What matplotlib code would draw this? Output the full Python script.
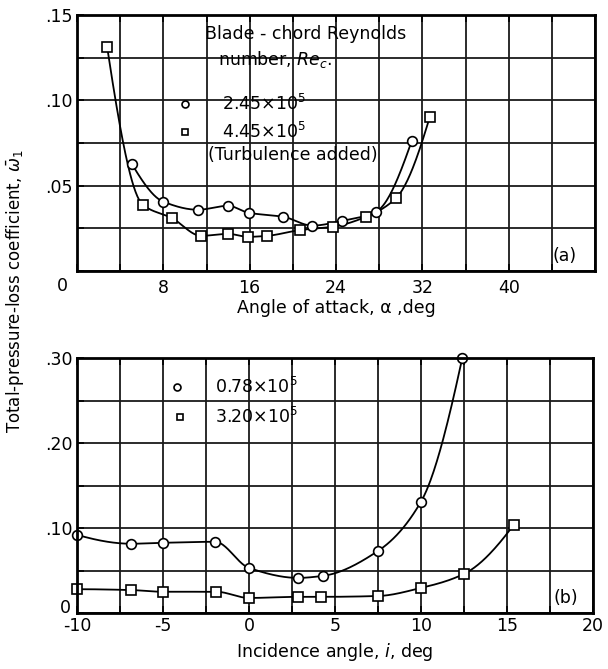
"""
Total-pressure-loss coefficient vs angle of attack (a) and incidence angle (b).
Two-panel grid chart in the old NACA report style.
"""
import matplotlib
matplotlib.use("Agg")
import matplotlib.pyplot as plt
import numpy as np
from matplotlib.patches import Rectangle
from matplotlib.ticker import FixedLocator, FuncFormatter

# panel (a): angle of attack, deg
A_RE245_X = [5.1, 8.0, 11.2, 14.0, 15.9, 19.1, 21.8, 24.6, 27.7, 31.0]
A_RE245_Y = [0.0625, 0.0406, 0.0359, 0.0382, 0.0341, 0.0318, 0.0266, 0.0294, 0.0347, 0.0759]
A_RE445_X = [2.8, 6.1, 8.8, 11.5, 14.0, 15.8, 17.6, 20.7, 23.7, 26.8, 29.6, 32.7]
A_RE445_Y = [0.131, 0.0388, 0.031, 0.0206, 0.0218, 0.020, 0.0206, 0.024, 0.0259, 0.0318, 0.043, 0.0905]

# panel (b): incidence angle, deg
B_RE078_X = [-10.0, -6.85, -5.0, -1.97, 0.0, 2.85, 4.3, 7.5, 10.0, 12.4]
B_RE078_Y = [0.092, 0.0815, 0.0826, 0.0838, 0.053, 0.0413, 0.0437, 0.073, 0.131, 0.300]
B_RE320_X = [-10.0, -6.85, -5.0, -1.9, 0.0, 2.85, 4.2, 7.5, 10.0, 12.5, 15.4]
B_RE320_Y = [0.028, 0.027, 0.025, 0.025, 0.0177, 0.019, 0.019, 0.020, 0.0295, 0.046, 0.104]

A_XTICKS = [0, 8, 16, 24, 32, 40]
A_YTICKS = [0.05, 0.10, 0.15]
B_XTICKS = [-10, -5, 0, 5, 10, 15, 20]
B_YTICKS = [0.10, 0.20, 0.30]

FS = 12.5
MK = dict(mfc="white", mec="black", mew=1.2, ls="none", zorder=5, clip_on=False)


def _end_slope(h0, h1, d0, d1):
    m = ((2 * h0 + h1) * d0 - h0 * d1) / (h0 + h1)
    if np.sign(m) != np.sign(d0):
        m = 0.0
    elif np.sign(d0) != np.sign(d1) and abs(m) > abs(3 * d0):
        m = 3 * d0
    return m


def smooth(x, y, n=40):
    # monotone cubic (pchip) through the measured points, only to draw the faired curve
    x = np.asarray(x, float)
    y = np.asarray(y, float)
    h = np.diff(x)
    d = np.diff(y) / h
    m = np.zeros_like(y)
    for k in range(1, len(x) - 1):
        if d[k - 1] * d[k] > 0:
            w1 = 2 * h[k] + h[k - 1]
            w2 = h[k] + 2 * h[k - 1]
            m[k] = (w1 + w2) / (w1 / d[k - 1] + w2 / d[k])
    m[0] = _end_slope(h[0], h[1], d[0], d[1])
    m[-1] = _end_slope(h[-1], h[-2], d[-1], d[-2])
    xs, ys = [], []
    for k in range(len(x) - 1):
        t = np.linspace(0, 1, n)[(0 if k == 0 else 1):]
        h00 = 2 * t ** 3 - 3 * t ** 2 + 1
        h10 = t ** 3 - 2 * t ** 2 + t
        h01 = -2 * t ** 3 + 3 * t ** 2
        h11 = t ** 3 - t ** 2
        xs.append(x[k] + t * h[k])
        ys.append(h00 * y[k] + h10 * h[k] * m[k] + h01 * y[k + 1] + h11 * h[k] * m[k + 1])
    return np.concatenate(xs), np.concatenate(ys)


def style_axes(ax, xstep, ystep, xlim, ylim, xlab, ylab_ticks, ylab_fmt):
    ax.set_xlim(*xlim)
    ax.set_ylim(*ylim)
    ax.xaxis.set_major_locator(FixedLocator(np.arange(xlim[0], xlim[1] + 1e-9, xstep)))
    ax.yaxis.set_major_locator(FixedLocator(np.arange(ylim[0], ylim[1] + 1e-9, ystep)))
    ax.xaxis.set_major_formatter(FuncFormatter(
        lambda v, _: f"{v:g}" if any(abs(v - t) < 1e-6 for t in xlab) else ""))
    ax.yaxis.set_major_formatter(FuncFormatter(
        lambda v, _: ylab_fmt(v) if any(abs(v - t) < 1e-6 for t in ylab_ticks) else ""))
    ax.grid(True, color="#1a1a1a", lw=1.3, zorder=1)
    ax.tick_params(direction="in", length=5, width=1.2, top=True, right=False,
                   labelsize=FS, colors="black")
    for sp in ax.spines.values():
        sp.set_linewidth(2.0)
        sp.set_zorder(6)
    ax.set_axisbelow(False)


fig = plt.figure(figsize=(6.08, 6.69), dpi=100)
plt.rcParams["mathtext.fontset"] = "dejavusans"

# ---- panel (a)
ax1 = fig.add_axes([77 / 608, 1 - 271 / 669, 518 / 608, 256 / 669])
style_axes(ax1, 4, 0.025, (0, 48), (0, 0.15), A_XTICKS[1:], A_YTICKS,
           lambda v: f"{v:.2f}"[1:])
ax1.tick_params(axis="x", pad=6)
ax1.tick_params(axis="y", pad=3)
ax1.add_patch(Rectangle((8, 0.060), 20.3, 0.09, fc="white", ec="none", zorder=2))
ax1.text(-0.029, -0.058, "0", transform=ax1.transAxes, ha="center", va="center", fontsize=FS)

for xs, ys, m in [(A_RE245_X, A_RE245_Y, "o"), (A_RE445_X, A_RE445_Y, "s")]:
    sx, sy = smooth(xs, ys)
    ax1.plot(sx, sy, color="black", lw=1.3, zorder=4)
    ax1.plot(xs, ys, marker=m, ms=7, **MK)

ax1.text(11.9, 0.139, "Blade - chord Reynolds", fontsize=FS, va="center", zorder=5)
ax1.text(13.1, 0.124, "number, $Re_c$.", fontsize=FS, va="center", zorder=5)
ax1.plot([10.0], [0.0976], marker="o", ms=5, **MK)
ax1.plot([10.0], [0.0817], marker="s", ms=5, **MK)
ax1.text(13.4, 0.0976, r"2.45×10$^5$", fontsize=FS, va="center", zorder=5)
ax1.text(13.4, 0.0817, r"4.45×10$^5$", fontsize=FS, va="center", zorder=5)
ax1.text(12.1, 0.068, "(Turbulence added)", fontsize=FS, va="center", zorder=5)
ax1.text(45.2, 0.0085, "(a)", fontsize=FS, ha="center", va="center", zorder=5)
ax1.set_xlabel("Angle of attack, α ,deg", fontsize=FS, labelpad=1)

# ---- panel (b)
ax2 = fig.add_axes([77 / 608, 1 - 613 / 669, 516 / 608, 255 / 669])
style_axes(ax2, 2.5, 0.05, (-10, 20), (0, 0.30), B_XTICKS, B_YTICKS,
           lambda v: f"{v:.2f}"[1:])
ax2.tick_params(axis="x", pad=3)
ax2.tick_params(axis="y", pad=3)
ax2.add_patch(Rectangle((-5, 0.205), 9.9, 0.095, fc="white", ec="none", zorder=2))
ax2.text(-0.022, 0.02, "0", transform=ax2.transAxes, ha="center", va="center", fontsize=FS)

for xs, ys, m in [(B_RE078_X, B_RE078_Y, "o"), (B_RE320_X, B_RE320_Y, "s")]:
    sx, sy = smooth(xs, ys)
    ax2.plot(sx, sy, color="black", lw=1.3, zorder=4)
    ax2.plot(xs, ys, marker=m, ms=7, **MK)

ax2.plot([-4.2], [0.2656], marker="o", ms=5, **MK)
ax2.plot([-4.0], [0.231], marker="s", ms=5, **MK)
ax2.text(-1.97, 0.2656, r"0.78×10$^5$", fontsize=FS, va="center", zorder=5)
ax2.text(-1.97, 0.231, r"3.20×10$^5$", fontsize=FS, va="center", zorder=5)
ax2.text(18.4, 0.018, "(b)", fontsize=FS, ha="center", va="center", zorder=5)
ax2.set_xlabel("Incidence angle, $i$, deg", fontsize=FS, labelpad=4)

fig.text(15 / 608, 1 - 291 / 669, r"Total-pressure-loss coefficient, $\bar{\omega}_1$",
         rotation=90, ha="center", va="center", fontsize=FS - 0.5)

fig.savefig("out.png", dpi=100)
plt.close(fig)
